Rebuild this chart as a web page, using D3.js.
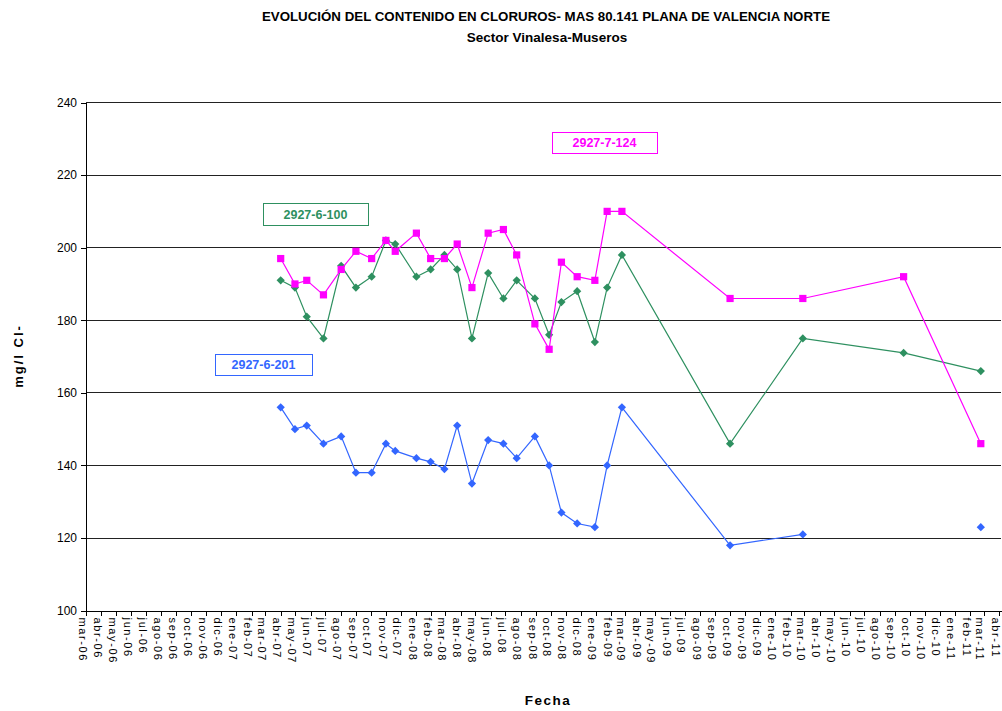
<!DOCTYPE html>
<html>
<head>
<meta charset="utf-8">
<script src="https://cdn.jsdelivr.net/npm/d3@7"></script>
<style>
  body { margin: 0; background: #fff; }
  svg { display: block; font-family: "Liberation Sans", Arial, sans-serif; }
</style>
</head>
<body>
<div id="chart"></div>
<script>
// sampling dates (shared by the three wells)
const sampleDates = [
  "2007-04-01", "2007-04-30", "2007-05-24", "2007-06-27", "2007-08-02", "2007-09-01",
  "2007-10-03", "2007-11-01", "2007-11-20", "2008-01-02", "2008-01-31", "2008-02-28",
  "2008-03-25", "2008-04-24", "2008-05-27", "2008-06-27", "2008-07-24", "2008-08-30",
  "2008-09-28", "2008-10-23", "2008-11-24", "2008-12-30", "2009-01-24", "2009-02-23",
  "2009-10-01", "2010-02-26", "2010-09-19", "2011-02-23"
]
// mg/l Cl- per well
const well201 = [156, 150, 151, 146, 148, 138, 138, 146, 144, 142, 141, 139, 151, 135,
  147, 146, 142, 148, 140, 127, 124, 123, 140, 156, 118, 121, null, 123]
const well100 = [191, 189, 181, 175, 195, 189, 192, 202, 201, 192, 194, 198, 194, 175,
  193, 186, 191, 186, 176, 185, 188, 174, 189, 198, 146, 175, 171, 166]
const well124 = [197, 190, 191, 187, 194, 199, 197, 202, 199, 204, 197, 197, 201, 189,
  204, 205, 198, 179, 172, 196, 192, 191, 210, 210, 186, 186, 192, 146]

const seriesNames = ["2927-6-201", "2927-6-100", "2927-7-124"]
const monthNames = ["ene", "feb", "mar", "abr", "may", "jun", "jul", "ago", "sep", "oct", "nov", "dic"]
const yTicks = [100, 120, 140, 160, 180, 200, 220, 240]
const axisStart = "2006-03-01"
const axisEnd = "2011-04-01"

const W = 1002, H = 711
const plotLeft = 86, plotRight = 1001, plotTop = 102.5, plotBottom = 610.6

const parse = d3.timeParse("%Y-%m-%d")
const dates = sampleDates.map(parse)

const svg = d3.select("#chart").append("svg")
  .attr("width", W)
  .attr("height", H)

const x = d3.scaleTime()
  .domain([parse(axisStart), parse(axisEnd)])
  .range([plotLeft, 999])

const y = d3.scaleLinear()
  .domain([100, 240])
  .range([plotBottom, plotTop])

// grid lines
svg.append("g")
  .selectAll("line")
  .data(yTicks.filter(d => d > 100))
  .join("line")
  .attr("x1", plotLeft)
  .attr("x2", plotRight)
  .attr("y1", d => y(d))
  .attr("y2", d => y(d))
  .attr("stroke", "#222")
  .attr("stroke-width", 1)
  .attr("shape-rendering", "crispEdges")

// y axis
const yAxis = svg.append("g")
  .attr("transform", `translate(${plotLeft},0)`)
  .call(d3.axisLeft(y).tickValues(yTicks).tickSize(5).tickPadding(4))
yAxis.select(".domain").attr("stroke", "#000").attr("shape-rendering", "crispEdges")
yAxis.selectAll(".tick line").attr("stroke", "#000").attr("shape-rendering", "crispEdges")
yAxis.selectAll("text").attr("font-size", 12).attr("fill", "#000")
  .attr("font-family", "Liberation Sans, Arial, sans-serif")

// x axis, one tick per month
const months = d3.timeMonth.range(parse(axisStart), d3.timeDay.offset(parse(axisEnd), 1))
const xAxis = svg.append("g")
  .attr("transform", `translate(0,${plotBottom})`)
  .call(d3.axisBottom(x)
    .tickValues(months)
    .tickSize(5)
    .tickSizeOuter(0)
    .tickFormat(d => monthNames[d.getMonth()] + "-" + d3.timeFormat("%y")(d)))
xAxis.select(".domain").attr("stroke", "#000").attr("d", `M${plotLeft},0.5H${plotRight + 1}`)
  .attr("shape-rendering", "crispEdges")
xAxis.selectAll(".tick line").attr("stroke", "#000").attr("shape-rendering", "crispEdges")
xAxis.selectAll(".tick text")
  .attr("font-size", 11)
  .attr("font-family", "Liberation Sans, Arial, sans-serif")
  .attr("letter-spacing", "1.6px")
  .attr("fill", "#000")
  .attr("text-anchor", "start")
  .attr("x", 7)
  .attr("y", 4)
  .attr("dy", "0.35em")
  .attr("transform", "rotate(90)")

// series
const series = [
  { name: seriesNames[0], values: well201, color: "#3366FF", marker: "diamond" },
  { name: seriesNames[1], values: well100, color: "#2E9060", marker: "diamond" },
  { name: seriesNames[2], values: well124, color: "#FF00FF", marker: "square" }
]

const line = d3.line()
  .defined(d => d.v !== null)
  .x(d => x(d.date))
  .y(d => y(d.v))

series.forEach(s => {
  const pts = dates.map((date, i) => ({ date: date, v: s.values[i] }))
  svg.append("path")
    .datum(pts)
    .attr("fill", "none")
    .attr("stroke", s.color)
    .attr("stroke-width", 1.2)
    .attr("d", line)
  svg.append("g")
    .selectAll("path")
    .data(pts.filter(d => d.v !== null))
    .join("path")
    .attr("transform", d => s.marker === "diamond"
      ? `translate(${x(d.date)},${y(d.v)}) rotate(45)`
      : `translate(${x(d.date)},${y(d.v)})`)
    .attr("d", d3.symbol().type(d3.symbolSquare).size(s.marker === "diamond" ? 34 : 52))
    .attr("fill", s.color)
})

// boxed series labels
const labelBoxes = [
  { name: seriesNames[2], color: "#FF00FF", x: 552, y: 132, w: 105, h: 21 },
  { name: seriesNames[1], color: "#2E9060", x: 263, y: 203, w: 105, h: 22 },
  { name: seriesNames[0], color: "#3366FF", x: 215, y: 354, w: 97, h: 21 }
]
labelBoxes.forEach(b => {
  svg.append("rect")
    .attr("x", b.x + 0.5).attr("y", b.y + 0.5)
    .attr("width", b.w).attr("height", b.h)
    .attr("fill", "#fff")
    .attr("stroke", b.color)
    .attr("stroke-width", 1)
  svg.append("text")
    .attr("x", b.x + b.w / 2)
    .attr("y", b.y + b.h / 2 + 4.5)
    .attr("text-anchor", "middle")
    .attr("font-size", 12.5)
    .attr("font-weight", "bold")
    .attr("fill", b.color)
    .text(b.name)
})

// titles
svg.append("text")
  .attr("x", 546).attr("y", 21)
  .attr("text-anchor", "middle")
  .attr("font-size", 13.3)
  .attr("font-weight", "bold")
  .text("EVOLUCIÓN DEL CONTENIDO EN CLORUROS- MAS 80.141 PLANA DE VALENCIA NORTE")

svg.append("text")
  .attr("x", 547).attr("y", 42)
  .attr("text-anchor", "middle")
  .attr("font-size", 13.5)
  .attr("font-weight", "bold")
  .text("Sector Vinalesa-Museros")

svg.append("text")
  .attr("transform", "translate(23,356) rotate(-90)")
  .attr("text-anchor", "middle")
  .attr("font-size", 13)
  .attr("font-weight", "bold")
  .attr("letter-spacing", "2px")
  .text("mg/l Cl-")

svg.append("text")
  .attr("x", 548).attr("y", 705)
  .attr("text-anchor", "middle")
  .attr("font-size", 13.5)
  .attr("font-weight", "bold")
  .attr("letter-spacing", "1.5px")
  .text("Fecha")
</script>
</body>
</html>
